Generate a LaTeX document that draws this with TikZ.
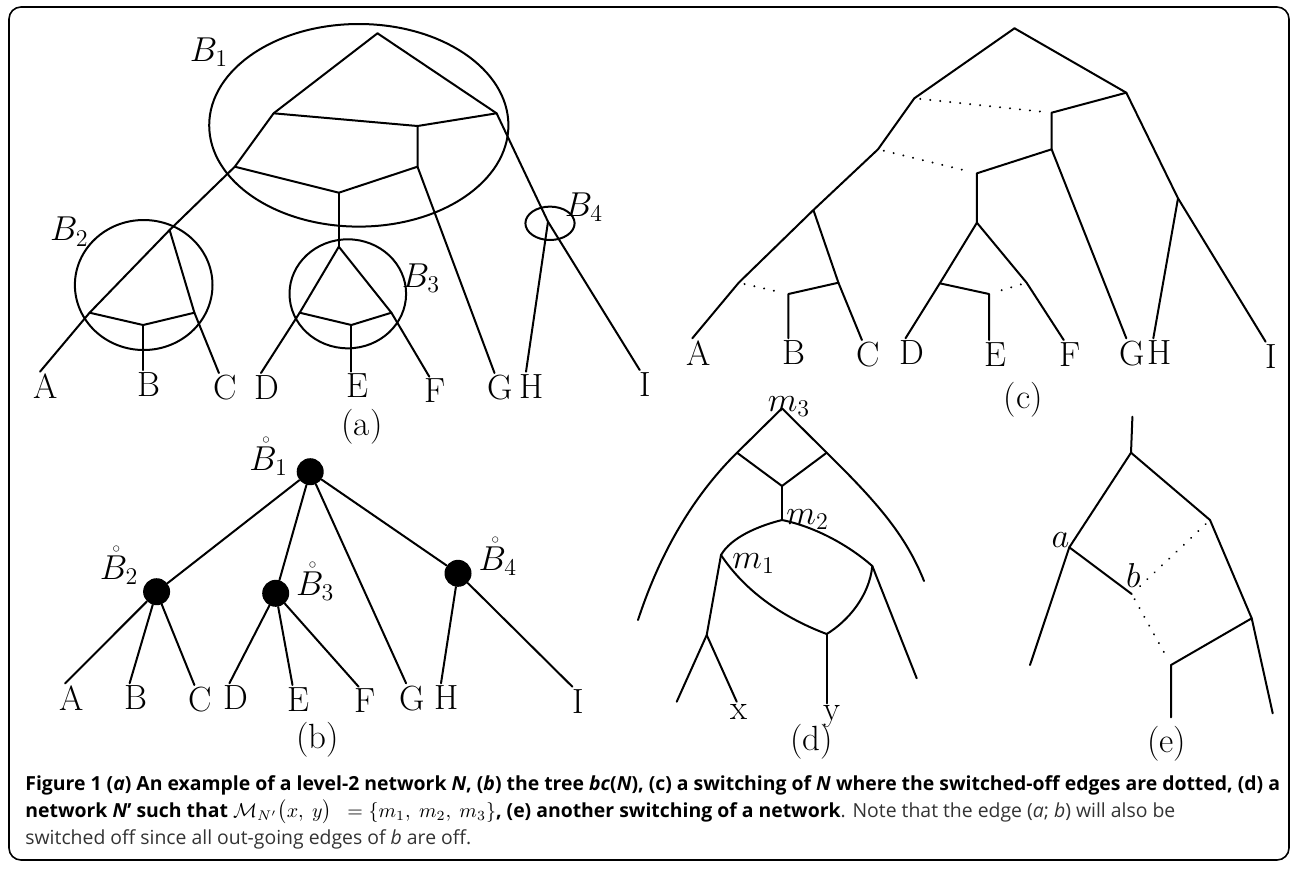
\documentclass[tikz,border=0pt]{standalone}
\usepackage{fontspec}
\usepackage{amsmath}
\newfontfamily\capfont{Open Sans}

\tikzset{
  netline/.style={line width=1pt, line cap=round, line join=round},
  offedge/.style={line width=1.1pt, line cap=round, dash pattern=on 0.01pt off 5pt, shorten <=3pt, shorten >=3pt},
  lbl/.style={font=\fontsize{17.5}{21}\selectfont, inner sep=1pt},
  leaflbl/.style={lbl, anchor=north, xshift=3pt},
  blob/.style={circle, fill=black, minimum size=13.5pt, inner sep=0pt},
  captxt/.style={anchor=base west, inner sep=0pt, font=\capfont\fontsize{9.7}{12}\selectfont},
}

\begin{document}
\begin{tikzpicture}[x=0.5pt, y=-0.5pt]
\useasboundingbox (0,0) rectangle (1293,869);
\draw[line width=0.8pt, rounded corners=6pt] (9,7) rectangle (1289,860);

% (a) level-2 network with its blobs
\coordinate (ar) at (377.5,33.3);
\coordinate (aL) at (273.6,113.3);
\coordinate (aR) at (496.6,113.3);
\coordinate (aM1) at (417.5,126);
\coordinate (aR2) at (417.5,166.7);
\coordinate (aL2) at (234.8,166.7);
\coordinate (aM2) at (338.8,192.7);
\coordinate (a3t) at (338.8,246.7);
\coordinate (a2t) at (169.6,230);
\coordinate (a2l) at (89.6,312.7);
\coordinate (a2m) at (143.1,325);
\coordinate (a2r) at (194.4,312.7);
\coordinate (a3l) at (299.7,312.7);
\coordinate (a3m) at (351.4,325);
\coordinate (a3r) at (391.4,312.7);
\coordinate (a4) at (548,221.7);
\coordinate (aA) at (40,371.7);
\coordinate (aB) at (143.1,370);
\coordinate (aC) at (218.9,373);
\coordinate (aD) at (261,373);
\coordinate (aE) at (351.4,371.7);
\coordinate (aF) at (429.3,376.7);
\coordinate (aG) at (494.5,373);
\coordinate (aH) at (526,371.7);
\coordinate (aI) at (639.7,370);
\draw[netline] (ar) -- (aL) -- (aL2) -- (a2t) -- (a2l) -- (aA);
\draw[netline] (ar) -- (aR) -- (a4) -- (aI);
\draw[netline] (aL) -- (aM1) -- (aR);
\draw[netline] (aM1) -- (aR2) -- (aG);
\draw[netline] (aL2) -- (aM2) -- (aR2);
\draw[netline] (aM2) -- (a3t);
\draw[netline] (a2t) -- (a2r) -- (aC);
\draw[netline] (a2l) -- (a2m) -- (a2r);
\draw[netline] (a2m) -- (aB);
\draw[netline] (a3t) -- (a3l) -- (aD);
\draw[netline] (a3t) -- (a3r) -- (aF);
\draw[netline] (a3l) -- (a3m) -- (a3r);
\draw[netline] (a3m) -- (aE);
\draw[netline] (a4) -- (aH);
\coordinate (B1c) at (358.8,125.3);
\coordinate (B2c) at (143.7,285);
\coordinate (B3c) at (347.8,293.8);
\coordinate (B4c) at (550,223.3);
\draw[netline] (B1c) ellipse [x radius=74.8pt, y radius=50.65pt];
\draw[netline] (B2c) ellipse [x radius=34.4pt, y radius=32.5pt];
\draw[netline] (B3c) ellipse [x radius=29.15pt, y radius=27.25pt];
\draw[netline] (B4c) ellipse [x radius=12.3pt, y radius=8.35pt];
\node[lbl] (lB1) at (209,52) {$B_1$};
\node[lbl] (lB2) at (69.4,231.7) {$B_2$};
\node[lbl] (lB3) at (421,278) {$B_3$};
\node[lbl] (lB4) at (584,207.5) {$B_4$};
\node[leaflbl] (aAl) at (aA) {A};
\node[leaflbl] (aBl) at (aB) {B};
\node[leaflbl] (aCl) at (aC) {C};
\node[leaflbl] (aDl) at (aD) {D};
\node[leaflbl] (aEl) at (aE) {E};
\node[leaflbl] (aFl) at (aF) {F};
\node[leaflbl] (aGl) at (aG) {G};
\node[leaflbl] (aHl) at (aH) {H};
\node[leaflbl] (aIl) at (aI) {I};
\node[lbl] (capa) at (362,426.7) {(a)};

% (b) the tree of blobs
\node[blob] (b1) at (310.2,471.7) {};
\node[blob] (b2) at (156.6,591.7) {};
\node[blob] (b3) at (275.7,593.3) {};
\node[blob] (b4) at (458,573.3) {};
\coordinate (bA) at (65.2,683.3);
\coordinate (bB) at (129.6,683.3);
\coordinate (bC) at (194.4,685);
\coordinate (bD) at (229.4,683.3);
\coordinate (bE) at (292.5,685);
\coordinate (bF) at (358.6,686.7);
\coordinate (bG) at (406.1,683.3);
\coordinate (bH) at (441,683.3);
\coordinate (bI) at (572.4,686.7);
\draw[netline] (b1) -- (b2);
\draw[netline] (b1) -- (b3);
\draw[netline] (b1) -- (bG);
\draw[netline] (b1) -- (b4);
\draw[netline] (b2) -- (bA);
\draw[netline] (b2) -- (bB);
\draw[netline] (b2) -- (bC);
\draw[netline] (b3) -- (bD);
\draw[netline] (b3) -- (bE);
\draw[netline] (b3) -- (bF);
\draw[netline] (b4) -- (bH);
\draw[netline] (b4) -- (bI);
\node[lbl, anchor=base east, xshift=-3pt, yshift=0.85pt] (lb1) at (b1.west) {$\mathring{B}_1$};
\node[lbl, anchor=base east, xshift=-1pt, yshift=6.3pt] (lb2) at (b2.west) {$\mathring{B}_2$};
\node[lbl, anchor=base west, xshift=2pt, yshift=-0.85pt] (lb3) at (b3.east) {$\mathring{B}_3$};
\node[lbl, anchor=base west, xshift=2.2pt, yshift=1.6pt] (lb4) at (b4.east) {$\mathring{B}_4$};
\node[leaflbl] (bAl) at (bA) {A};
\node[leaflbl] (bBl) at (bB) {B};
\node[leaflbl] (bCl) at (bC) {C};
\node[leaflbl] (bDl) at (bD) {D};
\node[leaflbl] (bEl) at (bE) {E};
\node[leaflbl] (bFl) at (bF) {F};
\node[leaflbl] (bGl) at (bG) {G};
\node[leaflbl] (bHl) at (bH) {H};
\node[leaflbl] (bIl) at (bI) {I};
\node[lbl] (capb) at (317.5,740) {(b)};

% (c) a switching, switched-off edges dotted
\coordinate (cr) at (1014.5,28.3);
\coordinate (cL) at (914.3,98.3);
\coordinate (cR) at (1126.3,92.7);
\coordinate (cM1) at (1051.6,112.7);
\coordinate (cR2) at (1051.6,149.3);
\coordinate (cL2) at (878,149.3);
\coordinate (cM2) at (976.9,173.3);
\coordinate (c3t) at (976.9,222.7);
\coordinate (c2t) at (813.4,210);
\coordinate (c2l) at (738.7,282.7);
\coordinate (c2m) at (788.4,294);
\coordinate (c2r) at (838.4,282.7);
\coordinate (c3l) at (939.8,283.3);
\coordinate (c3m) at (989,294);
\coordinate (c3r) at (1026.6,282.7);
\coordinate (c4) at (1178,198.3);
\coordinate (cA) at (692.3,338.3);
\coordinate (cB) at (788.4,338.3);
\coordinate (cC) at (861.9,340);
\coordinate (cD) at (905.5,338.3);
\coordinate (cE) at (989,340);
\coordinate (cF) at (1063.7,340);
\coordinate (cG) at (1126.3,338.3);
\coordinate (cH) at (1153.3,338.3);
\coordinate (cI) at (1265.6,341.7);
\draw[netline] (cr) -- (cL) -- (cL2) -- (c2t) -- (c2l) -- (cA);
\draw[netline] (cr) -- (cR) -- (c4) -- (cI);
\draw[netline] (cR) -- (cM1) -- (cR2) -- (cG);
\draw[netline] (cR2) -- (cM2) -- (c3t);
\draw[netline] (c2t) -- (c2r) -- (cC);
\draw[netline] (c2r) -- (c2m) -- (cB);
\draw[netline] (c3t) -- (c3l) -- (cD);
\draw[netline] (c3l) -- (c3m) -- (cE);
\draw[netline] (c3t) -- (c3r) -- (cF);
\draw[netline] (c4) -- (cH);
\draw[offedge] (cL) -- (cM1);
\draw[offedge] (cL2) -- (cM2);
\draw[offedge] (c2l) -- (c2m);
\draw[offedge] (c3r) -- (c3m);
\node[leaflbl] (cAl) at (cA) {A};
\node[leaflbl] (cBl) at (cB) {B};
\node[leaflbl] (cCl) at (cC) {C};
\node[leaflbl] (cDl) at (cD) {D};
\node[leaflbl] (cEl) at (cE) {E};
\node[leaflbl] (cFl) at (cF) {F};
\node[leaflbl] (cGl) at (cG) {G};
\node[leaflbl] (cHl) at (cH) {H};
\node[leaflbl] (cIl) at (cI) {I};
\node[lbl] (capc) at (1023.3,400) {(c)};

% (d) the network N'
\coordinate (m3) at (782,408.3);
\coordinate (dL) at (737,452.7);
\coordinate (dR) at (826.7,452.7);
\coordinate (dB) at (782,486);
\coordinate (m2) at (782,520);
\coordinate (m1) at (721,555);
\coordinate (dR1) at (872.3,566);
\coordinate (dY) at (826.7,634);
\coordinate (dX) at (706.7,635);
\coordinate (dLend) at (638,620);
\coordinate (dRend) at (924,581);
\coordinate (dR1end) at (916.7,678.3);
\coordinate (dXl) at (676.7,701.7);
\coordinate (dXx) at (736.7,701.7);
\coordinate (dYy) at (826.7,703.3);
\draw[netline] (dLend) .. controls (656.6,563) and (687.3,501.7) .. (dL) -- (m3) -- (dR) .. controls (876.4,501.7) and (905.5,534.5) .. (dRend);
\draw[netline] (dL) -- (dB) -- (dR);
\draw[netline] (dB) -- (m2);
\draw[netline] (m2) .. controls (757.8,526) and (731,537.6) .. (m1);
\draw[netline] (m2) .. controls (816.3,527) and (849.8,546.2) .. (dR1) -- (dR1end);
\draw[netline] (m1) .. controls (745.8,592.4) and (784.9,618.3) .. (dY);
\draw[netline] (dR1) .. controls (869.3,596) and (848,621) .. (dY);
\draw[netline] (dY) -- (dYy);
\draw[netline] (m1) -- (dX) -- (dXl);
\draw[netline] (dX) -- (dXx);
\node[lbl, anchor=base, xshift=3.5pt, yshift=-1.5pt] (lm3) at (m3) {$m_3$};
\node[lbl, anchor=base west, xshift=1pt, yshift=-2pt] (lm2) at (m2) {$m_2$};
\node[lbl, anchor=base west, xshift=4.5pt, yshift=-6.5pt] (lm1) at (m1) {$m_1$};
\node[leaflbl, xshift=-1.8pt] (lx) at (dXx) {x};
\node[leaflbl, xshift=-0.5pt] (ly) at (dYy) {y};
\node[lbl] (capd) at (811.7,741.7) {(d)};

% (e) another switching
\coordinate (eTop) at (1132.4,416.7);
\coordinate (eT) at (1131,452.7);
\coordinate (ea) at (1069.3,547.3);
\coordinate (eaL) at (1030,665);
\coordinate (eb) at (1131.7,594);
\coordinate (eR) at (1210,520);
\coordinate (eR2) at (1251.7,618.3);
\coordinate (eR2end) at (1272.7,713.3);
\coordinate (eQ) at (1171,665);
\coordinate (eQend) at (1171,717.3);
\draw[netline] (eTop) -- (eT) -- (ea) -- (eaL);
\draw[netline] (ea) -- (eb);
\draw[netline] (eT) -- (eR) -- (eR2) -- (eR2end);
\draw[netline] (eR2) -- (eQ) -- (eQend);
\draw[offedge] (eR) -- (eb);
\draw[offedge] (eb) -- (eQ);
\node[lbl, anchor=base east, xshift=1.2pt] (la) at (ea) {$a$};
\node[lbl, anchor=base, xshift=0.8pt, yshift=3.5pt] (lb) at (eb) {$b$};
\node[lbl] (cape) at (1166.7,743.3) {(e)};

% caption
\node[captxt] (capline1) at (25,790) {\textbf{Figure 1 (\textit{a}) An example of a level-2 network \textit{N}, (\textit{b}) the tree \textit{bc}(\textit{N}), (c) a switching of \textit{N} where the switched-off edges are dotted, (d) a}};
\node[captxt] (capline2) at (25,817) {\textbf{network \textit{N}’ such that} $\mathcal{M}_{N'}\bigl(x,\ y\bigr)\ \ =\{m_1,\ m_2,\ m_3\}$\textbf{, (e) another switching of a network}{\color{black!80}. Note that the edge (\textit{a}; \textit{b}) will also be}};
\node[captxt, text=black!80] (capline3) at (25,844) {switched off since all out-going edges of \textit{b} are off.};
\end{tikzpicture}
\end{document}
